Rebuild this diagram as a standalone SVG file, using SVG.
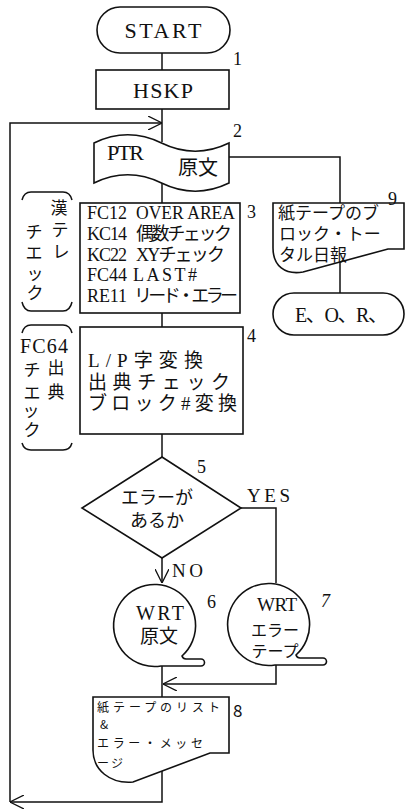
<svg xmlns="http://www.w3.org/2000/svg" width="406" height="812" viewBox="0 0 406 812">
<defs>
<style>
.s{fill:none;stroke:#111;stroke-width:1.5}
.n{fill:#fff;stroke:#111;stroke-width:1.6}
.t{font-family:"Liberation Serif","Noto Sans CJK JP",serif;fill:#111}
.g{font-family:"Noto Sans CJK JP","Liberation Sans",sans-serif;fill:#111}
.m{text-anchor:middle}
</style>
<marker id="ar" viewBox="0 0 14 14" refX="14" refY="7" markerWidth="14" markerHeight="14" markerUnits="userSpaceOnUse" orient="auto">
<path d="M0,0 L14,7 L0,14" fill="none" stroke="#111" stroke-width="1.3"/>
</marker>
</defs>
<rect width="406" height="812" fill="#fff"/>

<g id="connectors">
<path class="s" d="M162,53 V70"/>
<path class="s" d="M162,109 V142"/>
<path class="s" d="M162,183 V203"/>
<path class="s" d="M229,157 H340 V203"/>
<path class="s" d="M340,262 V293"/>
<path class="s" d="M162,313 V327"/>
<path class="s" d="M162,434 V457"/>
<path class="s" d="M162,558 V583" marker-end="url(#ar)"/>
<path class="s" d="M241,508 H276 V583"/>
<path class="s" d="M162,666 V697"/>
<path class="s" d="M276,663 V684 H163" marker-end="url(#ar)"/>
<path class="s" d="M162,771 V802 H10" marker-end="url(#ar)"/>
<path class="s" d="M10,802 V123 H162" marker-end="url(#ar)"/>
</g>

<g id="start">
<rect class="n" x="97" y="7" width="133" height="46" rx="23"/>
<text class="t m" x="163" y="38" font-size="22" textLength="77">START</text>
<text class="t" x="233" y="65" font-size="18">1</text>
</g>

<g id="hskp">
<rect class="n" x="96" y="70" width="133" height="39"/>
<text class="t m" x="163" y="98" font-size="22" textLength="60">HSKP</text>
</g>

<g id="ptr">
<path class="n" d="M94,143 C116,132.3 139.5,132.3 161.5,143 C183.5,153.7 207,153.7 229,143 V183 C207,193.7 183.5,193.7 161.5,183 C139.5,172.3 116,172.3 94,183 Z"/>
<text class="t" x="107" y="160" font-size="22" textLength="37">PTR</text>
<text class="t" x="178" y="175" font-size="20">原文</text>
<text class="t" x="233" y="137" font-size="18">2</text>
</g>

<g id="n3">
<rect class="n" x="80" y="203" width="160" height="110"/>
<g class="t" font-size="18">
<text x="87" y="219" textLength="40">FC12</text><text x="136" y="219" textLength="99" lengthAdjust="spacingAndGlyphs">OVER AREA</text>
<text x="87" y="240" textLength="40">KC14</text><text x="136" y="240" textLength="96">偶数チェック</text>
<text x="87" y="261" textLength="40">KC22</text><text x="136" y="261" textLength="89">XYチェック</text>
<text x="87" y="281" textLength="40">FC44</text><text x="133" y="281" textLength="64">LAST#</text>
<text x="87" y="302" textLength="40">RE11</text><text x="134" y="302" textLength="104">リード・エラー</text>
</g>
<text class="t" x="247" y="218" font-size="18">3</text>
</g>

<g id="note1">
<path class="s" d="M22,200 Q24,192 31,192 H63 Q70,192 72,200"/>
<path class="s" d="M22,302 Q24,311 31,311 H63 Q70,311 72,302"/>
<g class="t m" font-size="17">
<text x="59" y="214">漢</text>
<text x="60" y="236">テ</text>
<text x="61" y="258">レ</text>
<text x="34" y="238">チ</text>
<text x="34" y="259">エ</text>
<text x="35" y="280">ッ</text>
<text x="35" y="299">ク</text>
</g>
</g>

<g id="n4">
<rect class="n" x="80" y="327" width="163" height="107"/>
<g class="t" font-size="19">
<text x="88" y="367" textLength="115">L/P字変換</text>
<text x="88" y="389" textLength="142">出典チェック</text>
<text x="88" y="410" textLength="149">ブロック#変換</text>
</g>
<text class="t" x="247" y="342" font-size="18">4</text>
</g>

<g id="note2">
<path class="s" d="M22,333 Q24,325 31,325 H63 Q70,325 72,333"/>
<path class="s" d="M22,443 Q24,450 31,450 H63 Q70,450 72,443"/>
<text class="t m" x="44" y="353" font-size="20" textLength="48">FC64</text>
<g class="t m" font-size="17">
<text x="56" y="374">出</text>
<text x="56" y="398">典</text>
<text x="32" y="376">チ</text>
<text x="32" y="399">エ</text>
<text x="31" y="417">ッ</text>
<text x="32" y="436">ク</text>
</g>
</g>

<g id="n5">
<path class="n" d="M162,457 L241,508 L162,558 L82,508 Z"/>
<text class="t m" x="157" y="504" font-size="18">エラーが</text>
<text class="t m" x="157" y="527" font-size="18">あるか</text>
<text class="t" x="197" y="473" font-size="18">5</text>
<text class="t" x="247" y="502" font-size="19" textLength="43">YES</text>
<text class="t" x="172" y="577" font-size="19" textLength="31">NO</text>
</g>

<g id="n6">
<path class="n" d="M161,666 H201 A3.5,3.5 0 0 0 201,659 H186 Q183,659 182,656 A41,41 0 1 0 161,666 Z"/>
<text class="t m" x="160" y="620" font-size="20" textLength="48">WRT</text>
<text class="t m" x="159" y="643" font-size="19">原文</text>
<text class="t" x="207" y="608" font-size="18">6</text>
</g>

<g id="n7">
<path class="n" d="M275,665 H323 A3.5,3.5 0 0 0 323,658 H300 Q297,658 296,655 A41,41 0 1 0 275,665 Z"/>
<text class="t m" x="277" y="611" font-size="19" textLength="40">WRT</text>
<text class="t m" x="275" y="636" font-size="16">エラー</text>
<text class="t m" x="275" y="657" font-size="16">テープ</text>
<text class="t" x="321" y="607" font-size="18" font-style="italic">7</text>
</g>

<g id="n8">
<path class="n" d="M93,697 H229 V753 H210 L133,782 C110,784 93,770 93,750 Z"/>
<g class="g" font-size="12">
<text x="97" y="712" textLength="123">紙テープのリスト</text>
<text x="100" y="729">&amp;</text>
<text x="97" y="748" textLength="106">エラー・メッセ</text>
<text x="97" y="768" textLength="26">ージ</text>
</g>
<text class="g" x="233" y="717" font-size="17">8</text>
</g>

<g id="n9">
<path class="n" d="M273,203 H404 V249 H388 L303,272 C285,275 273,266 273,248 Z"/>
<g class="t" font-size="17">
<text x="278" y="219">紙テープのブ</text>
<text x="279" y="240">ロック・トー</text>
<text x="279" y="261">タル日報</text>
</g>
<text class="t" x="388" y="205" font-size="18">9</text>
</g>

<g id="eor">
<rect class="n" x="273" y="293" width="131" height="42" rx="21"/>
<text class="t" x="295" y="322" font-size="20" textLength="93">E、O、R、</text>
</g>
</svg>
